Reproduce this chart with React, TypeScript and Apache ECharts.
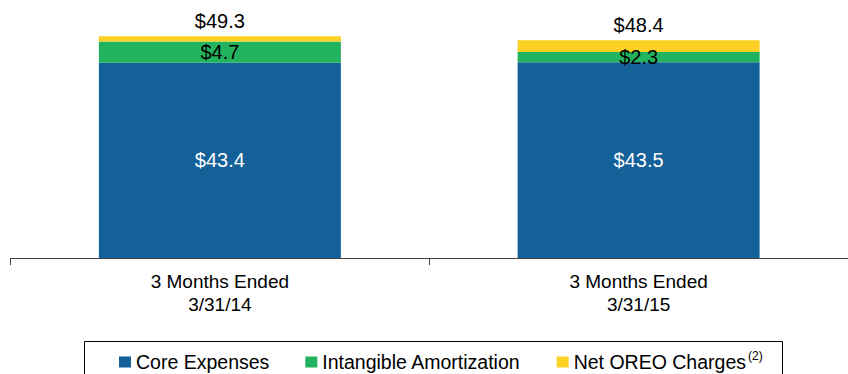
import React, { useEffect, useRef } from "react";
import * as echarts from "echarts";

const categories = ["3 Months Ended\n3/31/14", "3 Months Ended\n3/31/15"];
const coreExpenses = [43.4, 43.5];
const intangibleAmortization = [4.7, 2.3];
const netOreoCharges = [1.2, 2.6];
const totals = [49.3, 48.4];
const seriesNames = ["Core Expenses", "Intangible Amortization", "Net OREO Charges"];

const FONT = "'Liberation Sans', Arial, sans-serif";

export default function App() {
  const ref = useRef<HTMLDivElement>(null);
  useEffect(() => {
    if (!ref.current) return;
    const chart = echarts.init(ref.current, null, { renderer: "svg" });
    chart.setOption({
      animation: false,
      textStyle: { fontFamily: FONT },
      grid: { left: 10.5, width: 846, top: 33, bottom: 116 },
      xAxis: {
        type: "category",
        data: categories,
        axisLine: { lineStyle: { color: "#404040", width: 1 } },
        axisTick: { show: true, length: 7, lineStyle: { color: "#404040" } },
        axisLabel: { color: "#000", fontSize: 19, lineHeight: 23, margin: 12, fontFamily: FONT },
      },
      yAxis: { type: "value", min: 0, max: 50, show: false },
      legend: {
        left: 114,
        top: 345,
        itemWidth: 12,
        itemHeight: 11,
        itemGap: 36,
        icon: "rect",
        textStyle: {
          fontSize: 19.5,
          color: "#000",
          fontFamily: FONT,
          rich: {
            n: { fontSize: 19.5, fontFamily: FONT, color: "#000" },
            s: { fontSize: 12, fontFamily: FONT, color: "#000", padding: [0, 0, 12, 2] },
          },
        },
        formatter: (name: string) =>
          name === "Net OREO Charges" ? "{n|Net OREO Charges}{s|(2)}" : name,
        data: seriesNames,
      },
      graphic: [
        {
          type: "rect",
          shape: { x: 84.5, y: 341.5, width: 698, height: 40 },
          style: { fill: "none", stroke: "#000", lineWidth: 1 },
          silent: true,
        },
      ],
      series: [
        {
          name: seriesNames[0],
          type: "bar",
          stack: "a",
          barWidth: 242,
          data: coreExpenses,
          itemStyle: { color: "#146098" },
          label: {
            show: true,
            position: "inside",
            color: "#fff",
            fontSize: 20,
            fontFamily: FONT,
            formatter: (p: any) => "$" + p.value.toFixed(1),
          },
        },
        {
          name: seriesNames[1],
          type: "bar",
          stack: "a",
          barWidth: 242,
          data: intangibleAmortization,
          itemStyle: { color: "#22B35E" },
          label: {
            show: true,
            position: "inside",
            color: "#000",
            fontSize: 20,
            fontFamily: FONT,
            formatter: (p: any) => "$" + p.value.toFixed(1),
          },
        },
        {
          name: seriesNames[2],
          type: "bar",
          stack: "a",
          barWidth: 242,
          data: netOreoCharges,
          itemStyle: { color: "#FDD124" },
          label: {
            show: true,
            position: "top",
            distance: 5,
            color: "#000",
            fontSize: 20,
            fontFamily: FONT,
            formatter: (p: any) => "$" + totals[p.dataIndex].toFixed(1),
          },
        },
      ],
    });
    return () => chart.dispose();
  }, []);
  return (
    <div
      ref={ref}
      style={{ position: "fixed", left: 0, top: 0, width: 848, height: 374, background: "#fff" }}
    />
  );
}
